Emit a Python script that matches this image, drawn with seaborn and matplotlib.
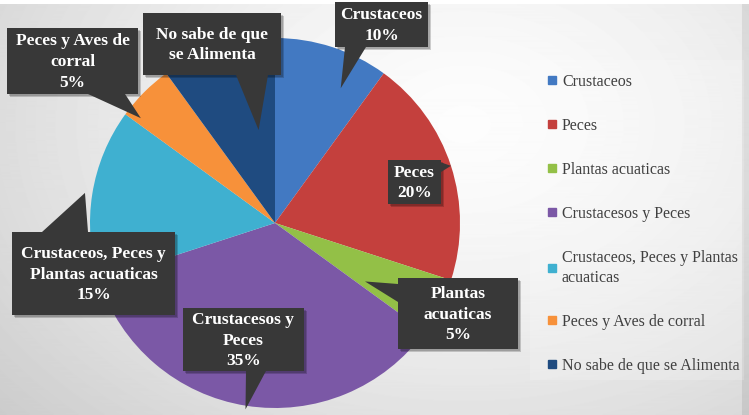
import matplotlib
matplotlib.use('Agg')
import matplotlib.pyplot as plt
import seaborn as sns
import numpy as np
from matplotlib.patches import Rectangle, Polygon
from matplotlib.lines import Line2D

# Datos del grafico
categorias = ['Crustaceos', 'Peces', 'Plantas acuaticas', 'Crustacesos y Peces',
              'Crustaceos, Peces y Plantas\nacuaticas', 'Peces y Aves de corral',
              'No sabe de que se Alimenta']
porcentajes = [10, 20, 5, 35, 15, 5, 10]
colores = ['#4279c2', '#c4403d', '#93c047', '#7b58a6', '#3fb0d0', '#f7913a', '#1f4b80']
etiquetas = ['Crustaceos', 'Peces', 'Plantas\nacuaticas', 'Crustacesos y\nPeces',
             'Crustaceos, Peces y\nPlantas acuaticas', 'Peces y Aves de\ncorral',
             'No sabe de que\nse Alimenta']
mostrar_pct = [True, True, True, True, True, True, False]

sns.set_theme(style='white')
plt.rcParams['font.family'] = ['Liberation Serif', 'DejaVu Serif']

W, H = 749, 415
fig = plt.figure(figsize=(W / 100, H / 100), dpi=100)

# fondo degradado gris
bg = fig.add_axes([0, 0, 1, 1], zorder=0)
yy, xx = np.mgrid[0:H, 0:W]
xn, yn = xx / W, yy / H
d = np.sqrt(((xn - 0.62) / 0.7) ** 2 + ((yn - 0.3) / 0.9) ** 2)
img = 0.99 - 0.15 * d ** 1.5
img[:, 742:] -= 0.07
img[:5, :] = 1.0
bg.imshow(img, cmap='gray', vmin=0, vmax=1, extent=(0, W, H, 0), aspect='auto')
bg.add_patch(Rectangle((530, 60), 214, 320, facecolor='white', alpha=0.18, lw=0))
bg.set_xlim(0, W)
bg.set_ylim(H, 0)
bg.axis('off')

# pastel
cx, cy, R = 275, 223, 185
ax = fig.add_axes([(cx - R) / W, (H - cy - R) / H, 2 * R / W, 2 * R / H], zorder=1)
wedges, _ = ax.pie(porcentajes, colors=colores, startangle=90, counterclock=False,
                   wedgeprops=dict(linewidth=0))
ax.set_xlim(-1, 1)
ax.set_ylim(-1, 1)
ax.set_aspect('equal')
ax.patch.set_alpha(0)

# capa para las llamadas
ov = fig.add_axes([0, 0, 1, 1], zorder=2)
ov.set_xlim(0, W)
ov.set_ylim(H, 0)
ov.axis('off')
ov.patch.set_alpha(0)

# caja (x0, y0, x1, y1), base de la flecha, radio y desfase de la punta
llamadas = [
    ((335, 2, 428, 47), [(345, 47), (366, 47)], 0.81, 8),
    ((388, 160, 441, 204), [(434, 160), (441, 172)], 1.0, 0),
    ((398, 278, 518, 349), [(398, 284), (398, 302)], 0.58, 6),
    ((183, 308, 304, 371), [(246, 371), (266, 371)], 1.02, 0),
    ((12, 232, 175, 315), [(42, 232), (88, 232)], 1.04, 0),
    ((7, 28, 138, 94), [(88, 94), (125, 94)], 0.92, -7),
    ((143, 13, 281, 75), [(236, 75), (268, 75)], 0.51, 8),
]

to_ov = ov.transData.inverted()
for w, txt, v, pct, (box, base, rf, off) in zip(wedges, etiquetas, porcentajes,
                                                mostrar_pct, llamadas):
    ang = np.deg2rad((w.theta1 + w.theta2) / 2 - off)
    tip = to_ov.transform(ax.transData.transform((rf * np.cos(ang), rf * np.sin(ang))))
    x0, y0, x1, y1 = box
    for dx, a in [(3, 0.18), (2, 0.18)]:
        ov.add_patch(Rectangle((x0 + dx, y0 + dx), x1 - x0, y1 - y0,
                               facecolor='black', alpha=a, lw=0))
    ov.add_patch(Rectangle((x0, y0), x1 - x0, y1 - y0, facecolor='#383838', lw=0))
    ov.add_patch(Polygon([base[0], tuple(tip), base[1]], closed=True,
                         facecolor='#383838', lw=0))
    label = txt + (f'\n{v}%' if pct else '')
    ov.text((x0 + x1) / 2, (y0 + y1) / 2 + 1, label, ha='center', va='center',
            color='white', fontsize=12.5, fontweight='bold', linespacing=1.4)

# leyenda
handles = [Line2D([], [], marker='s', color=c, linestyle='None', markersize=6)
           for c in colores]
leg = fig.legend(handles, categorias, loc='upper left', bbox_to_anchor=(538 / W, 1 - 66 / H),
                 frameon=False, fontsize=11.5, labelspacing=1.75, handlelength=0.7,
                 handletextpad=0.3, borderpad=0, labelcolor='#404040')
for t in leg.get_texts():
    t.set_linespacing(1.35)

fig.savefig('out.png', dpi=100)
